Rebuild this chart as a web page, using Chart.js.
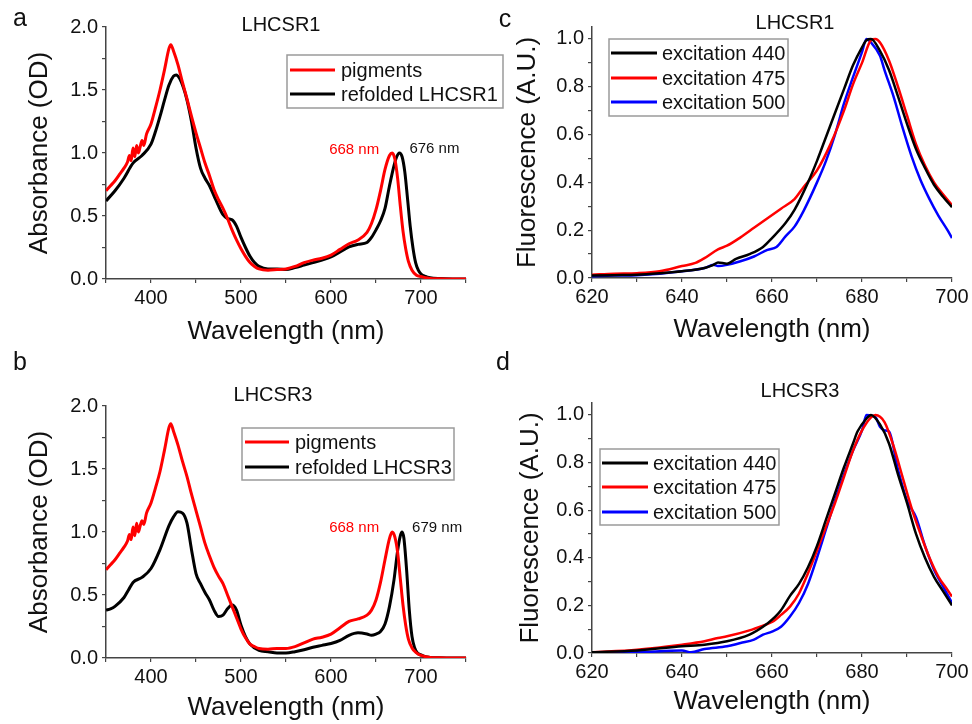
<!DOCTYPE html>
<html>
<head>
<meta charset="utf-8">
<script src="https://cdn.jsdelivr.net/npm/chart.js@4.4.1/dist/chart.umd.min.js"></script>
<style>
  html, body { margin: 0; padding: 0; background: #ffffff; width: 972px; height: 724px; overflow: hidden; }
  canvas { position: absolute; left: 0; top: 0; }
</style>
</head>
<body>
<canvas id="pa" width="972" height="780"></canvas>
<canvas id="pb" width="972" height="780"></canvas>
<canvas id="pc" width="972" height="780"></canvas>
<canvas id="pd" width="972" height="780"></canvas>
<script>
// ---------------- DATA ----------------
// Panel a: LHCSR1 absorbance
const pigA_wl = [350,355,360,365,370,374,376,378,380,382,384,386,388,390,392,395,400,405,410,415,420,422,425,430,435,440,445,450,455,460,465,470,475,480,485,490,495,500,505,510,515,520,530,540,550,560,570,580,590,600,610,620,630,640,645,650,655,660,665,668,671,674,677,680,683,686,690,695,700,705,710,720,735,750];
const pigA_od = [0.70,0.74,0.78,0.83,0.88,0.93,0.98,0.94,1.04,0.97,1.06,1.00,1.05,1.10,1.06,1.15,1.23,1.36,1.50,1.66,1.83,1.86,1.81,1.70,1.56,1.43,1.29,1.16,1.04,0.92,0.82,0.71,0.63,0.56,0.48,0.39,0.31,0.24,0.18,0.13,0.10,0.08,0.07,0.075,0.08,0.10,0.13,0.15,0.165,0.19,0.235,0.28,0.31,0.37,0.44,0.55,0.70,0.87,0.98,1.00,0.95,0.80,0.58,0.38,0.24,0.14,0.07,0.03,0.02,0.01,0.005,0.002,0,0];
const refA_wl = [350,360,370,380,390,400,405,410,415,420,425,428,432,436,440,445,450,455,460,465,470,475,480,485,490,495,500,505,510,515,520,530,540,550,560,570,580,590,600,610,620,630,640,645,650,655,660,665,670,673,676,679,682,685,688,691,694,697,700,705,710,720,735,750];
const refA_od = [0.62,0.70,0.80,0.92,0.98,1.07,1.17,1.29,1.42,1.54,1.61,1.62,1.59,1.52,1.42,1.25,1.04,0.88,0.80,0.74,0.66,0.58,0.51,0.48,0.47,0.42,0.33,0.25,0.18,0.13,0.10,0.08,0.08,0.075,0.09,0.11,0.13,0.15,0.175,0.215,0.255,0.275,0.29,0.33,0.39,0.46,0.56,0.74,0.90,0.97,1.00,0.97,0.85,0.64,0.42,0.25,0.13,0.07,0.04,0.02,0.01,0.003,0,0];

// Panel b: LHCSR3 absorbance
const pigB_wl = [350,355,360,365,370,374,376,378,380,382,384,386,388,390,392,395,400,405,410,415,420,422,425,430,435,440,445,450,455,460,465,470,475,480,485,490,495,500,505,510,515,520,530,540,550,560,570,580,590,600,610,620,630,640,645,650,655,660,665,668,671,674,677,680,683,686,690,695,700,705,710,720,735,750];
const pigB_od = [0.70,0.74,0.78,0.83,0.88,0.93,0.98,0.94,1.04,0.97,1.07,1.00,1.05,1.09,1.06,1.15,1.23,1.35,1.48,1.65,1.83,1.86,1.80,1.69,1.56,1.44,1.30,1.17,1.04,0.91,0.81,0.72,0.65,0.59,0.50,0.41,0.32,0.23,0.16,0.11,0.09,0.075,0.07,0.075,0.075,0.09,0.12,0.15,0.165,0.19,0.24,0.29,0.31,0.34,0.38,0.46,0.60,0.78,0.95,1.00,0.96,0.84,0.63,0.42,0.26,0.15,0.08,0.04,0.02,0.01,0.005,0.002,0,0];
const refB_wl = [350,355,360,370,375,380,390,400,410,420,425,430,435,440,445,450,455,460,465,470,475,480,485,490,495,500,505,510,520,530,540,550,560,570,580,590,600,610,620,630,640,645,650,655,660,665,670,674,677,679,681,684,687,690,693,696,700,705,710,720,735,750];
const refB_od = [0.38,0.39,0.41,0.48,0.54,0.60,0.64,0.71,0.86,1.05,1.12,1.16,1.15,1.07,0.86,0.67,0.59,0.52,0.46,0.38,0.33,0.34,0.39,0.42,0.38,0.26,0.17,0.11,0.06,0.05,0.04,0.04,0.05,0.065,0.085,0.10,0.115,0.14,0.18,0.20,0.19,0.18,0.19,0.21,0.27,0.41,0.62,0.85,0.97,1.00,0.95,0.70,0.38,0.17,0.08,0.04,0.025,0.01,0.005,0.002,0,0];

// Panel c: LHCSR1 fluorescence
const flC_wl440 = [620,625,630,635,640,645,647,648,650,652,655,658,660,663,665,668,670,672,674,676,678,680,681,682,684,686,688,690,692,694,696,698,700];
const flC_ex440 = [0.010,0.012,0.014,0.020,0.028,0.042,0.055,0.065,0.060,0.080,0.100,0.130,0.167,0.230,0.285,0.400,0.490,0.590,0.690,0.790,0.890,0.965,0.995,1.000,0.950,0.870,0.760,0.645,0.540,0.460,0.390,0.340,0.296];
const flC_wl475 = [620,625,630,635,640,643,645,648,650,653,656,659,662,665,667,670,673,676,678,680,682,683,684,686,688,690,692,694,696,698,700];
const flC_ex475 = [0.014,0.018,0.020,0.028,0.050,0.063,0.083,0.120,0.135,0.170,0.210,0.250,0.290,0.330,0.380,0.450,0.560,0.700,0.810,0.900,0.995,1.000,0.985,0.910,0.800,0.680,0.560,0.470,0.400,0.350,0.305];
const flC_wl500 = [620,625,630,635,640,645,647,648,650,653,656,659,661,663,665,667,670,672,674,676,678,680,681,682,684,685,687,689,691,693,695,697,699,700];
const flC_ex500 = [0.007,0.010,0.012,0.018,0.028,0.042,0.055,0.050,0.055,0.070,0.090,0.118,0.130,0.174,0.215,0.280,0.400,0.490,0.600,0.730,0.840,0.945,1.000,0.985,0.930,0.870,0.760,0.630,0.510,0.410,0.330,0.260,0.200,0.167];

// Panel d: LHCSR3 fluorescence
const flD_wl440 = [620,630,640,645,650,655,658,660,662,664,666,668,670,672,674,676,678,679,681,682,684,686,688,690,692,694,696,698,700];
const flD_ex440 = [0.003,0.011,0.028,0.035,0.049,0.077,0.110,0.140,0.180,0.240,0.290,0.360,0.450,0.560,0.670,0.780,0.880,0.930,0.985,1.000,0.960,0.880,0.750,0.630,0.500,0.400,0.320,0.260,0.200];
const flD_wl475 = [620,630,640,645,648,650,655,658,660,662,664,666,668,670,672,674,676,678,680,682,683,685,687,689,691,693,695,697,699,700];
const flD_ex475 = [0.003,0.014,0.035,0.049,0.063,0.070,0.095,0.115,0.130,0.160,0.195,0.250,0.335,0.430,0.530,0.630,0.740,0.850,0.935,0.990,1.000,0.970,0.870,0.740,0.610,0.500,0.400,0.320,0.265,0.237];
const flD_wl500 = [620,630,640,642,645,650,653,656,658,660,662,664,666,668,670,672,674,676,678,680,681,683,684,685,686,688,690,692,694,696,698,700];
const flD_ex500 = [0.000,0.003,0.011,0.003,0.017,0.028,0.042,0.056,0.077,0.090,0.110,0.153,0.210,0.290,0.400,0.520,0.640,0.750,0.850,0.935,1.000,0.990,0.950,0.935,0.930,0.770,0.640,0.570,0.450,0.350,0.280,0.210];

// Tick settings (values only)
const absXTicks = { min: 350, max: 750, step: 50, labelEvery: 100 };
const absYTicks = { min: 0, max: 2.0, step: 0.25, labelEvery: 0.5 };
const flXTicks = { min: 620, max: 700, step: 10, labelEvery: 20 };
const flYTicks = { min: 0, max: 1.05, step: 0.1, labelEvery: 0.2 };

// ---------------- RENDERING ----------------
const FONT = "'Liberation Sans', Arial, Helvetica, sans-serif";
Chart.defaults.font.family = FONT;
Chart.defaults.color = '#111';

function pts(xs, ys) { return xs.map((x, i) => ({ x: x, y: ys[i] })); }
function isMult(v, m) { const r = v / m; return Math.abs(r - Math.round(r)) < 1e-6; }

const decor = {
  id: 'decor',
  afterDatasetsDraw(chart, args, o) {
    const ctx = chart.ctx;
    ctx.save();
    ctx.textBaseline = 'middle';
    // panel letter
    ctx.fillStyle = '#111';
    ctx.font = '25px ' + FONT;
    ctx.textAlign = 'center';
    ctx.fillText(o.letter.text, o.letter.x, o.letter.y);
    // panel title
    ctx.font = '20px ' + FONT;
    ctx.fillText(o.title.text, o.title.x, o.title.y);
    // peak notes, anchored on data coordinates
    (o.notes || []).forEach(n => {
      const px = chart.scales.x.getPixelForValue(n.wl) + n.dx;
      const py = chart.scales.y.getPixelForValue(n.val) + n.dy;
      ctx.font = '15px ' + FONT;
      ctx.fillStyle = n.color;
      ctx.textAlign = n.align;
      ctx.fillText(n.text, px, py);
    });
    // legend box
    const L = o.legend;
    ctx.fillStyle = '#ffffff';
    ctx.fillRect(L.box[0], L.box[1], L.box[2] - L.box[0], L.box[3] - L.box[1]);
    ctx.strokeStyle = '#9a9a9a';
    ctx.lineWidth = 1.5;
    ctx.strokeRect(L.box[0], L.box[1], L.box[2] - L.box[0], L.box[3] - L.box[1]);
    ctx.font = '20px ' + FONT;
    ctx.textAlign = 'left';
    chart.data.datasets.forEach((ds, i) => {
      const y = L.rows[i];
      ctx.strokeStyle = ds.borderColor;
      ctx.lineWidth = 3;
      ctx.beginPath();
      ctx.moveTo(L.sample[0], y);
      ctx.lineTo(L.sample[1], y);
      ctx.stroke();
      ctx.fillStyle = '#111';
      ctx.fillText(ds.label, L.textX, y + 1);
    });
    ctx.restore();
  }
};

function makePanel(id, p) {
  const W = 972, H = 780, yW = 106, xH = 75;
  const a = p.area;
  const datasets = p.series.map(s => ({
    label: s.label,
    data: pts(s.x, s.y),
    borderColor: s.color,
    backgroundColor: s.color,
    borderWidth: p.lineWidth,
    pointRadius: 0,
    cubicInterpolationMode: 'monotone',
    fill: false
  }));
  const axisColor = '#444';
  new Chart(document.getElementById(id), {
    type: 'line',
    data: { datasets },
    plugins: [decor],
    options: {
      responsive: false,
      animation: false,
      events: [],
      layout: { padding: { left: a.left - yW, top: a.top, right: W - a.right, bottom: H - a.bottom - xH } },
      plugins: {
        legend: { display: false },
        tooltip: { enabled: false },
        decor: p.decor
      },
      scales: {
        x: {
          type: 'linear',
          min: p.xt.min, max: p.xt.max,
          afterFit: s => { s.height = xH; },
          ticks: {
            stepSize: p.xt.step, autoSkip: false, maxRotation: 0, padding: 3,
            font: { size: 20 }, color: '#111',
            callback: v => isMult(v, p.xt.labelEvery) ? String(Math.round(v)) : ''
          },
          grid: { drawOnChartArea: false, drawTicks: true, tickLength: 4, color: axisColor, lineWidth: 1.2 },
          border: { display: true, color: axisColor, width: 1.5 },
          title: { display: true, text: 'Wavelength (nm)', font: { size: 26 }, color: '#111', padding: { top: 0, bottom: p.xTitlePad } }
        },
        y: {
          type: 'linear',
          min: p.yt.min, max: p.yt.max,
          afterFit: s => { s.width = yW; },
          ticks: {
            stepSize: p.yt.step, autoSkip: false, padding: 4, includeBounds: false,
            font: { size: 20 }, color: '#111',
            callback: v => isMult(v, p.yt.labelEvery) ? v.toFixed(1) : ''
          },
          grid: { drawOnChartArea: false, drawTicks: true, tickLength: 4, color: axisColor, lineWidth: 1.2 },
          border: { display: true, color: axisColor, width: 1.5 },
          title: { display: true, text: p.yTitle, font: { size: 26 }, color: '#111', padding: { top: p.yTitlePad, bottom: 0 } }
        }
      }
    }
  });
}

makePanel('pa', {
  area: { left: 106, top: 27, right: 466, bottom: 279 },
  xt: absXTicks, yt: absYTicks, lineWidth: 3,
  yTitle: 'Absorbance (OD)', yTitlePad: 24, xTitlePad: 7,
  series: [
    { label: 'pigments', x: pigA_wl, y: pigA_od, color: '#ff0000' },
    { label: 'refolded LHCSR1', x: refA_wl, y: refA_od, color: '#000000' }
  ],
  decor: {
    letter: { text: 'a', x: 20, y: 19 },
    title: { text: 'LHCSR1', x: 281, y: 25 },
    notes: [
      { text: '668 nm', wl: 668, val: 1.0, dx: -13, dy: -3, align: 'right', color: '#ff0000' },
      { text: '676 nm', wl: 676, val: 1.0, dx: 10, dy: -4, align: 'left', color: '#111' }
    ],
    legend: { box: [287, 55, 503, 108], rows: [70, 94], sample: [290, 335], textX: 341 }
  }
});

makePanel('pb', {
  area: { left: 106, top: 406, right: 466, bottom: 658 },
  xt: absXTicks, yt: absYTicks, lineWidth: 3,
  yTitle: 'Absorbance (OD)', yTitlePad: 24, xTitlePad: 10,
  series: [
    { label: 'pigments', x: pigB_wl, y: pigB_od, color: '#ff0000' },
    { label: 'refolded LHCSR3', x: refB_wl, y: refB_od, color: '#000000' }
  ],
  decor: {
    letter: { text: 'b', x: 20, y: 363 },
    title: { text: 'LHCSR3', x: 273, y: 395 },
    notes: [
      { text: '668 nm', wl: 668, val: 1.0, dx: -13, dy: -4, align: 'right', color: '#ff0000' },
      { text: '679 nm', wl: 679, val: 1.0, dx: 10, dy: -4, align: 'left', color: '#111' }
    ],
    legend: { box: [242, 428, 454, 480], rows: [442, 467], sample: [245, 289], textX: 295 }
  }
});

makePanel('pc', {
  area: { left: 592, top: 27, right: 952, bottom: 278 },
  xt: flXTicks, yt: flYTicks, lineWidth: 2.5,
  yTitle: 'Fluorescence (A.U.)', yTitlePad: 26, xTitlePad: 8,
  series: [
    { label: 'excitation 440', x: flC_wl440, y: flC_ex440, color: '#000000' },
    { label: 'excitation 475', x: flC_wl475, y: flC_ex475, color: '#ff0000' },
    { label: 'excitation 500', x: flC_wl500, y: flC_ex500, color: '#0000ff' }
  ],
  decor: {
    letter: { text: 'c', x: 505, y: 20 },
    title: { text: 'LHCSR1', x: 795, y: 23 },
    notes: [],
    legend: { box: [609, 39, 788, 116], rows: [53, 78, 102], sample: [611, 657], textX: 662 }
  }
});

makePanel('pd', {
  area: { left: 592, top: 403, right: 952, bottom: 653 },
  xt: flXTicks, yt: flYTicks, lineWidth: 2.5,
  yTitle: 'Fluorescence (A.U.)', yTitlePad: 29, xTitlePad: 11,
  series: [
    { label: 'excitation 440', x: flD_wl440, y: flD_ex440, color: '#000000' },
    { label: 'excitation 475', x: flD_wl475, y: flD_ex475, color: '#ff0000' },
    { label: 'excitation 500', x: flD_wl500, y: flD_ex500, color: '#0000ff' }
  ],
  decor: {
    letter: { text: 'd', x: 503, y: 363 },
    title: { text: 'LHCSR3', x: 800, y: 391 },
    notes: [],
    legend: { box: [600, 449, 779, 525], rows: [463, 487, 512], sample: [602, 648], textX: 653 }
  }
});
</script>
</body>
</html>
